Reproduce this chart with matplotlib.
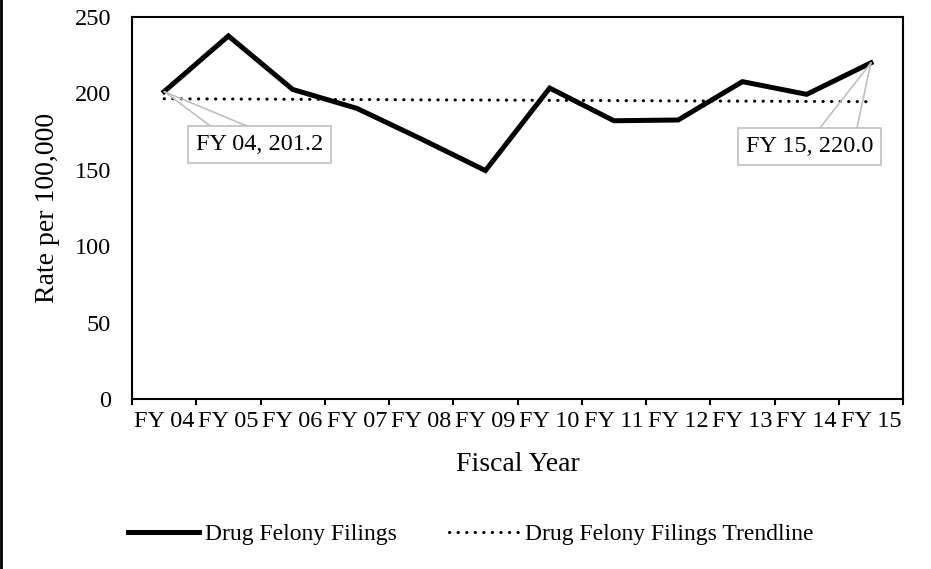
import matplotlib
matplotlib.use("Agg")
import matplotlib.pyplot as plt
from matplotlib.lines import Line2D
import numpy as np

plt.rcParams['font.family'] = ['Liberation Serif', 'DejaVu Serif']

# Data
years = ['FY 04', 'FY 05', 'FY 06', 'FY 07', 'FY 08', 'FY 09',
         'FY 10', 'FY 11', 'FY 12', 'FY 13', 'FY 14', 'FY 15']
rates = [201.2, 237.6, 202.6, 190.2, 170.2, 149.5,
         203.5, 182.1, 182.6, 207.7, 199.4, 220.0]

FS = 17          # legend
TICK_FS = 17.5   # tick labels
TITLE_FS = 20    # axis titles

fig = plt.figure(figsize=(9.31, 5.69), dpi=100)
ax = fig.add_axes([0.1418, 0.2988, 0.8282, 0.6713])

x = np.arange(len(years)) + 0.5

# linear trendline, as Excel computes it
coef = np.polyfit(np.arange(len(rates)), rates, 1)
trend = np.polyval(coef, np.arange(len(rates)))

ax.plot(x, rates, color='black', lw=3.6, solid_joinstyle='miter',
        label='Drug Felony Filings', zorder=3)
ax.plot(x, trend, color='black', lw=2.2, linestyle=(0, (0.1, 2.7)),
        dash_capstyle='round', label='Drug Felony Filings Trendline', zorder=2)

ax.set_xlim(0, len(years))
ax.set_ylim(0, 250)
ax.set_yticks([0, 50, 100, 150, 200, 250])

# ticks between categories, labels at category centres
ax.set_xticks(np.arange(len(years) + 1))
ax.set_xticklabels([])
ax.set_xticks(x, minor=True)
ax.set_xticklabels(years, minor=True, fontsize=TICK_FS)
ax.tick_params(axis='x', which='major', direction='out', length=4.5, width=1.5)
ax.tick_params(axis='x', which='minor', length=0, pad=8.5)
ax.tick_params(axis='y', length=0, pad=15, labelsize=TICK_FS)

for s in ax.spines.values():
    s.set_linewidth(1.5)

ax.set_xlabel('Fiscal Year', fontsize=TITLE_FS)
ax.xaxis.set_label_coords(0.5, -0.172)
ax.xaxis.label.set_va('center')
ax.set_ylabel('Rate per 100,000', fontsize=TITLE_FS)
ax.yaxis.set_label_coords(-0.109, 0.5)
ax.yaxis.label.set_va('center')

# callout data labels: (index, box offset, leader ends) in points
callouts = [
    (0, (68.8, -38.4), [(33.8, -25.2), (60.5, -25.2)]),
    (11, (-44.3, -60.0), [(-36.7, -46.8), (-10.1, -46.8)]),
]
for i, box_off, leads in callouts:
    for lo in leads:
        ax.annotate('', xy=(x[i], rates[i]), xytext=lo, textcoords='offset points',
                    arrowprops=dict(arrowstyle='-', color='#bfbfbf', lw=1.2,
                                    shrinkA=0, shrinkB=0), zorder=4)
    ax.annotate(f'{years[i]}, {rates[i]:.1f}', xy=(x[i], rates[i]), xytext=box_off,
                textcoords='offset points', ha='center', va='center', fontsize=17.5,
                bbox=dict(boxstyle='square,pad=0.33', fc='white', ec='#bfbfbf', lw=1.2),
                zorder=5)

fig.legend(loc='center', bbox_to_anchor=(0.506, 0.0605), ncol=2, frameon=False,
           fontsize=FS, handlelength=3.0, handletextpad=0.25, columnspacing=2.2)

# left edge of the chart area border
fig.add_artist(Line2D([0.001, 0.001], [0, 1], transform=fig.transFigure,
                      color='black', lw=2))

fig.savefig('out.png', dpi=100)
